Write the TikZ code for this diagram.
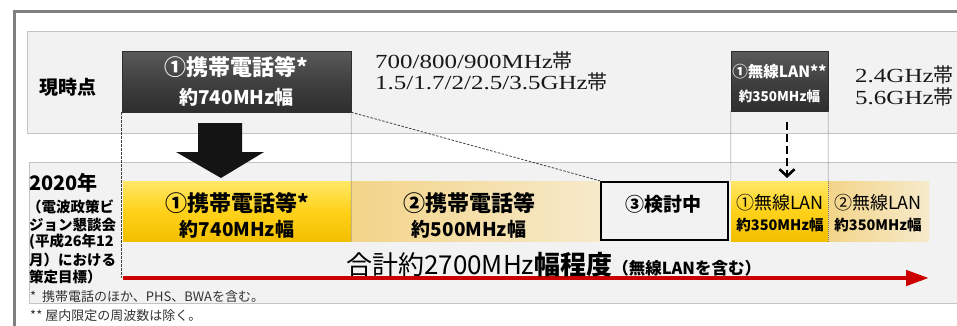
\documentclass[tikz,border=0pt]{standalone}
\usepackage{fontspec}
\setmainfont{Noto Sans CJK JP}
\newfontfamily\serifw[FakeStretch=1.25]{Liberation Serif}
\usetikzlibrary{arrows.meta,calc}
\newcommand\fsz[1]{\fontsize{#1}{#1}\selectfont}
\definecolor{framegray}{HTML}{7F7F7F}
\definecolor{panelfill}{HTML}{F2F2F2}
\definecolor{panelline}{HTML}{C4C4C4}
\definecolor{dktop}{HTML}{5A5A5A}
\definecolor{dkmid}{HTML}{404040}
\definecolor{dkbot}{HTML}{2E2E2E}
\definecolor{yeltop}{HTML}{FFE866}
\definecolor{yelmid}{HTML}{FFD21A}
\definecolor{yelbot}{HTML}{F3BF00}
\definecolor{lightl}{HTML}{F3D488}
\definecolor{lightr}{HTML}{F6EACB}
\definecolor{redarrow}{HTML}{CC0000}
\begin{document}
\begin{tikzpicture}[x=1pt,y=-1pt,
  panel/.style={fill=panelfill, draw=panelline, line width=0.8pt},
  darkbox/.style={rectangle, inner sep=0pt, top color=dktop, bottom color=dkbot, middle color=dkmid, draw=dkbot, line width=0.5pt},
  yelbar/.style={rectangle, inner sep=0pt, top color=yeltop, bottom color=yelbot, middle color=yelmid},
  lightbar/.style={rectangle, inner sep=0pt, left color=lightl, right color=lightr},
  studybox/.style={rectangle, inner sep=0pt, fill=panelfill, draw=black, line width=2.5pt},
  wt/.style={text=white, inner sep=0pt},
  bt/.style={text=black, inner sep=0pt},
  guide/.style={draw=black!75, line width=0.8pt, dash pattern=on 2.5pt off 1.5pt},
  dotguide/.style={draw=black!55, line width=0.6pt, dash pattern=on 1pt off 1pt},
  sertext/.style={text=black!90, inner sep=0pt, anchor=base west, font=\fsz{20}},
  note/.style={text=black!80, inner sep=0pt, anchor=west, font=\fsz{13}},
  sidelabel/.style={text=black, inner sep=0pt, anchor=west, font=\fsz{14.5}\bfseries}
]
\useasboundingbox (0,0) rectangle (957,325);
% outer frame
\draw[framegray, line width=3pt] (14,326) -- (14,11) -- (958,11);
% panels
\path[panel] (27,31) rectangle (960,133);
\path[panel] (29,162) rectangle (960,303);

% top boxes
\node[darkbox, minimum width=229pt, minimum height=61pt] (tb1) at (236.5,81.5) {};
\node[darkbox, minimum width=97pt, minimum height=60pt] (tl) at (779.5,81) {};

% bars
\node[yelbar, minimum width=228pt, minimum height=60pt] (yb1) at (237,211) {};
\node[lightbar, minimum width=249pt, minimum height=60pt] (yb2) at (475.5,211) {};
\node[studybox, minimum width=127pt, minimum height=58pt] (yb3) at (664.5,211) {};
\node[yelbar, minimum width=97pt, minimum height=60pt] (yb4) at (779.5,211) {};
\node[lightbar, minimum width=101pt, minimum height=60pt] (yb5) at (878.5,211) {};

% guides
\coordinate (ra) at (123,278);
\coordinate (rb) at (929,278);
\draw[guide] (tb1.south west) -- (tb1.south west |- ra);
\draw[dotguide] (tb1.south east) -- (yb1.south east);
\draw[guide] (tb1.south east) -- (yb3.north west);
\draw[dotguide] (tl.south west) -- (yb4.north west);
\draw[dotguide] (tl.south east) -- (yb4.north east);
\draw[dotguide] (yb4.north east) -- (yb4.south east);

% dashed arrow for LAN
\coordinate (da) at (787,122);
\coordinate (db) at (787,178);
\draw[line width=2.6pt, dash pattern=on 8pt off 4pt, -{Straight Barb[length=7pt,width=15pt,line width=2.6pt]}] (da) -- (db);

% big black arrow
\fill[black!92] (198,123) -- (242,123) -- (242,152) -- (264,152) -- (221,178) -- (176,152) -- (198,152) -- cycle;

% red arrow
\draw[redarrow, line width=4.5pt, -{Triangle[length=23pt,width=15pt]}] (ra) -- (rb);

% texts in top boxes
\node[wt, font=\fsz{22}\bfseries] (tb1a) at (236.5,67) {①携帯電話等*};
\node[wt, font=\fsz{19}\bfseries] (tb1b) at (236.5,97) {約740MHz幅};
\node[wt, font=\fsz{15.5}\bfseries] (tla) at (779.5,72) {①無線LAN**};
\node[wt, font=\fsz{13.5}\bfseries] (tlb) at (779.5,96) {約350MHz幅};

% texts in bars
\node[bt, font=\fsz{22}\bfseries] (yb1a) at (237,203) {①携帯電話等*};
\node[bt, font=\fsz{19}\bfseries] (yb1b) at (237,229) {約740MHz幅};
\node[bt, font=\fsz{22}\bfseries] (yb2a) at (469,203) {②携帯電話等};
\node[bt, font=\fsz{19}\bfseries] (yb2b) at (469,229) {約500MHz幅};
\node[bt, font=\fsz{19}\bfseries] (yb3a) at (663,204) {③検討中};
\node[bt, font=\fsz{18}] (yb4a) at (780,203) {①無線LAN};
\node[bt, font=\fsz{14.5}\bfseries] (yb4b) at (780,225) {約350MHz幅};
\node[bt, font=\fsz{18}] (yb5a) at (878,203) {②無線LAN};
\node[bt, font=\fsz{14.5}\bfseries] (yb5b) at (878,225) {約350MHz幅};

% serif frequency texts
\node[sertext] (f1) at (375,68.5) {{\serifw 700/800/900MHz}帯};
\node[sertext] (f2) at (375,89) {{\serifw 1.5/1.7/2/2.5/3.5GHz}帯};
\node[sertext] (f3) at (855,82) {{\serifw 2.4GHz}帯};
\node[sertext] (f4) at (855,104) {{\serifw 5.6GHz}帯};

% left labels
\node[bt, font=\fsz{19}\bfseries] (now) at (68,87) {現時点};
\node[bt, anchor=west, font=\fsz{20}\bfseries] (y2020) at (29,183) {2020年};
\node[sidelabel] (s1) at (27,207) {（電波政策ビ};
\node[sidelabel] (s2) at (29,225) {ジョン懇談会};
\node[sidelabel] (s3) at (29,242) {(平成26年12};
\node[sidelabel] (s4) at (29,260) {月）における};
\node[sidelabel] (s5) at (29,277) {策定目標）};

% total
\node[bt, anchor=base west] (total) at (346,274) {{\fsz{26}合計約2700MHz\bfseries 幅程度}{\fsz{16.5}\bfseries （無線LANを含む）}};

% footnotes
\node[note] (n1) at (30,297) {*\ \ 携帯電話のほか、PHS、BWAを含む。};
\node[note] (n2) at (30,316) {**\ 屋内限定の周波数は除く。};
\end{tikzpicture}
\end{document}
